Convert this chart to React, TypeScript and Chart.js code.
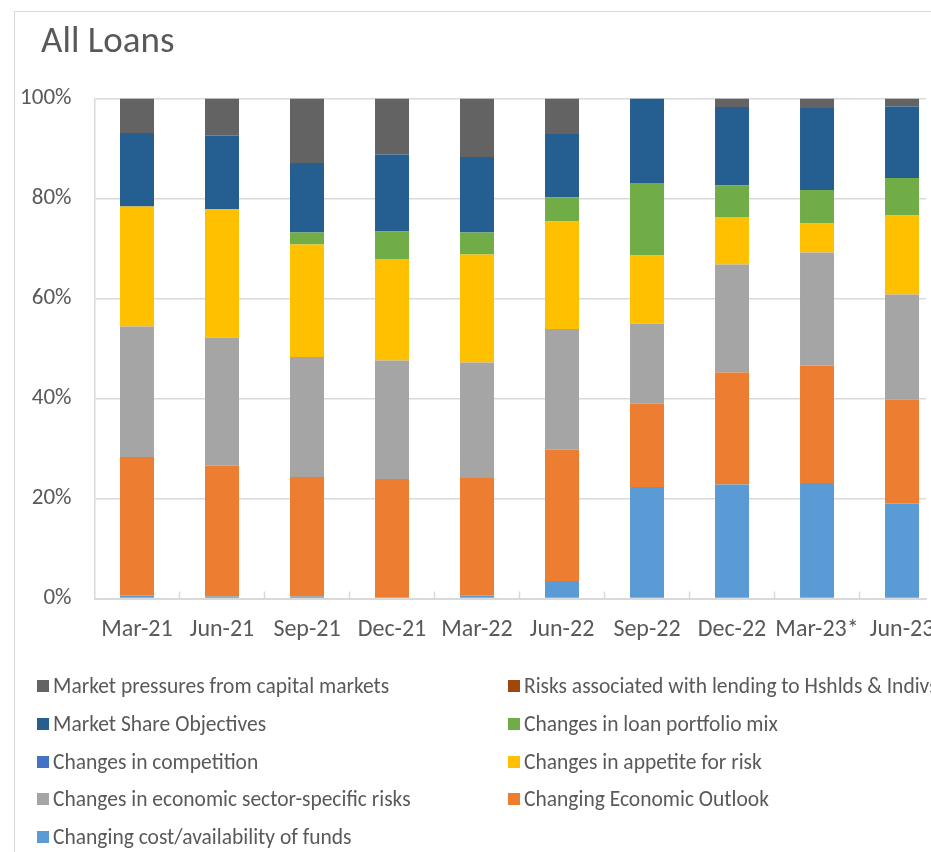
import React, { useEffect, useRef } from 'react';
import { Chart, registerables } from 'chart.js';

Chart.register(...registerables);

const categories = ['Mar-21', 'Jun-21', 'Sep-21', 'Dec-21', 'Mar-22', 'Jun-22', 'Sep-22', 'Dec-22', 'Mar-23*', 'Jun-23'];

const fundsCost = [0.6, 0.4, 0.4, 0, 0.6, 3.5, 22.3, 22.8, 23.1, 19.0];
const economicOutlook = [27.7, 26.2, 23.9, 23.9, 23.5, 26.3, 16.7, 22.4, 23.5, 20.8];
const sectorRisks = [26.1, 25.6, 24.0, 23.7, 23.1, 24.1, 16.0, 21.6, 22.6, 21.0];
const riskAppetite = [24.0, 25.7, 22.5, 20.3, 21.6, 21.5, 13.6, 9.5, 5.8, 15.8];
const competition = [0, 0, 0, 0, 0, 0, 0, 0, 0, 0];
const portfolioMix = [0, 0, 2.4, 5.5, 4.4, 4.8, 14.5, 6.3, 6.7, 7.5];
const marketShare = [14.7, 14.7, 13.9, 15.4, 15.1, 12.7, 16.9, 15.7, 16.4, 14.3];
const householdRisks = [0, 0, 0, 0, 0, 0, 0, 0, 0, 0];
const capitalMarkets = [6.9, 7.4, 12.9, 11.2, 11.7, 7.1, 0, 1.7, 1.9, 1.6];

const yTicks = [0, 20, 40, 60, 80, 100];

const seriesNames = [
  'Changing cost/availability of funds',
  'Changing Economic Outlook',
  'Changes in economic sector-specific risks',
  'Changes in appetite for risk',
  'Changes in competition',
  'Changes in loan portfolio mix',
  'Market Share Objectives',
  'Risks associated with lending to Hshlds & Indivs',
  'Market pressures from capital markets',
];
const seriesValues = [fundsCost, economicOutlook, sectorRisks, riskAppetite, competition, portfolioMix, marketShare, householdRisks, capitalMarkets];
const seriesColors = ['#5B9BD5', '#ED7D31', '#A5A5A5', '#FFC000', '#4472C4', '#70AD47', '#255E91', '#9E480E', '#636363'];

const TEXT = '#595959';
const GRID = '#d9d9d9';
const FONT = 'Carlito, Lato, sans-serif';

const innerTicks = {
  id: 'innerTicks',
  afterDraw(chart: any) {
    const xs = chart.scales.x;
    const { ctx, chartArea } = chart;
    ctx.save();
    ctx.strokeStyle = GRID;
    ctx.lineWidth = 1.5;
    for (let i = 0; i < categories.length; i++) {
      const px = xs.getPixelForValue(i + 0.5);
      if (px > chartArea.right) continue;
      ctx.beginPath();
      ctx.moveTo(px, chartArea.bottom);
      ctx.lineTo(px, chartArea.bottom - 7);
      ctx.stroke();
    }
    ctx.restore();
  },
};

export default function App() {
  const ref = useRef<HTMLCanvasElement>(null);

  useEffect(() => {
    if (!ref.current) return;
    Chart.defaults.font.family = FONT;
    const chart = new Chart(ref.current, {
      type: 'bar',
      data: {
        datasets: seriesValues.map((vals, k) => ({
          label: seriesNames[k],
          data: vals.map((y, i) => ({ x: i, y })),
          backgroundColor: seriesColors[k],
          borderWidth: 0,
          barPercentage: 0.4,
          categoryPercentage: 1,
        })),
      },
      plugins: [innerTicks],
      options: {
        animation: false,
        responsive: false,
        devicePixelRatio: 1,
        layout: { autoPadding: false, padding: { top: 98.5, right: 5, left: 0, bottom: 0 } },
        plugins: { legend: { display: false }, tooltip: { enabled: false } },
        scales: {
          x: {
            type: 'linear',
            stacked: true,
            offset: false,
            min: -0.5,
            max: 9.282,
            afterBuildTicks: (s: any) => {
              s.ticks = categories.map((_, i) => ({ value: i }));
            },
            afterFit: (s: any) => {
              s.height = 852 - 598.5;
              s.paddingLeft = 0;
              s.paddingRight = 0;
              s.paddingTop = 0;
              s.paddingBottom = 0;
            },
            ticks: {
              autoSkip: false,
              maxRotation: 0,
              color: TEXT,
              font: { size: 24 },
              padding: 17,
              callback: (_v: any, idx: number) => categories[idx],
            },
            grid: { display: false, drawTicks: false },
            border: { display: true, color: GRID, width: 2 },
          },
          y: {
            stacked: true,
            min: 0,
            max: 100,
            afterBuildTicks: (s: any) => {
              s.ticks = yTicks.map((v) => ({ value: v }));
            },
            afterFit: (s: any) => {
              s.width = 94.5;
              s.paddingLeft = 0;
              s.paddingRight = 0;
              s.paddingTop = 0;
              s.paddingBottom = 0;
            },
            ticks: {
              color: TEXT,
              font: { size: 23 },
              padding: 23,
              callback: (v: any) => `${v}%`,
            },
            grid: { color: GRID, lineWidth: 1.5, drawTicks: false },
            border: { display: true, color: GRID, width: 1.5 },
          },
        },
      },
    } as any);
    return () => chart.destroy();
  }, []);

  const legendOrder = seriesNames.map((_, i) => seriesNames.length - 1 - i);
  const rowY = [686, 723.5, 761.5, 799, 837];
  const colX = [37, 508];

  return (
    <div style={{ position: 'absolute', left: 0, top: 0, width: 931, height: 852, overflow: 'hidden', background: '#fff', fontFamily: FONT }}>
      <div style={{ position: 'absolute', left: 14, top: 11, width: 1200, height: 1200, borderLeft: `1px solid ${GRID}`, borderTop: `1px solid ${GRID}` }} />
      <canvas ref={ref} width={931} height={852} style={{ position: 'absolute', left: 0, top: 0, width: 931, height: 852 }} />
      <div style={{ position: 'absolute', left: 41, top: 21, fontSize: 37, lineHeight: 1, color: TEXT, whiteSpace: 'nowrap' }}>All Loans</div>
      {legendOrder.map((si, n) => {
        const row = Math.floor(n / 2);
        const col = n % 2;
        return (
          <div key={si} style={{ position: 'absolute', left: colX[col], top: rowY[row] - 13, height: 26, display: 'flex', alignItems: 'center', whiteSpace: 'nowrap', fontSize: 21.5, color: TEXT }}>
            <span style={{ display: 'inline-block', width: 12, height: 12, background: seriesColors[si], marginRight: 4 }} />
            <span>{seriesNames[si]}</span>
          </div>
        );
      })}
    </div>
  );
}
